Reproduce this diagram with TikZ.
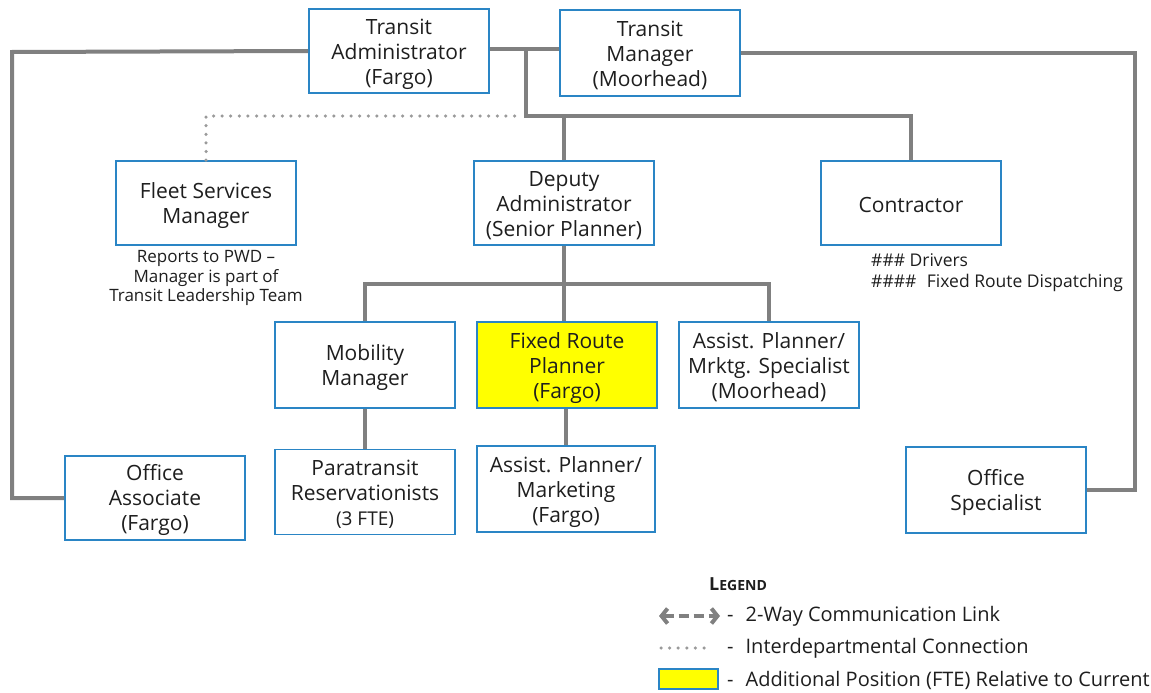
\documentclass[tikz,border=0pt]{standalone}
\usepackage{fontspec}
\setmainfont{Open Sans}
\usetikzlibrary{arrows.meta,calc,positioning}
\definecolor{orgBlue}{HTML}{2A85C5}
\definecolor{orgGray}{HTML}{808080}
\definecolor{orgDots}{HTML}{9A9A9A}
\definecolor{orgInk}{HTML}{1E1E1E}
\definecolor{orgYellow}{HTML}{FFFF00}
\begin{document}
\begin{tikzpicture}[x=1pt,y=-1pt,>=Latex,line cap=butt,line join=miter]
\path[fill=white] (0,0) rectangle (1151,693);
\tikzset{posbox/.style={draw=orgBlue,fill=white,line width=1.8pt,minimum width=180pt,minimum height=85pt,align=center,text=orgInk,inner sep=0pt,text depth=5pt,font=\fontsize{21}{25}\selectfont},oneline/.style={text height=24pt},twoline/.style={text height=45pt},threeline/.style={text height=72pt},newpos/.style={posbox,fill=orgYellow},orgline/.style={draw=orgGray,line width=4pt},interline/.style={draw=orgDots,line width=3.5pt,line cap=round,dash pattern=on 0pt off 8.6pt},commlink/.style={draw=orgGray,line width=4pt,dash pattern=on 10pt off 5pt,{Straight Barb[length=6pt,width=15pt,line width=4pt]}-{Straight Barb[length=6pt,width=15pt,line width=4pt]}},note/.style={text=orgInk,inner sep=0pt},legtext/.style={note,anchor=west,font=\fontsize{20}{24}\selectfont}}
% positions
\node[posbox,threeline,minimum height=84pt] (admin) at (399,51) {Transit\\Administrator\\(Fargo)};
\node[posbox,threeline,minimum height=86pt] (manager) at (650,53) {Transit\\Manager\\(Moorhead)};
\node[posbox,twoline,minimum height=84pt] (fleet) at (206,203) {Fleet Services\\Manager};
\node[posbox,threeline,minimum height=84pt] (deputy) at (564,203) {Deputy\\Administrator\\(Senior Planner)};
\node[posbox,oneline,minimum height=84pt] (contractor) at (911,203) {Contractor};
\node[posbox,twoline,minimum height=86pt] (mobility) at (365,365) {Mobility\\Manager};
\node[newpos,threeline,minimum height=86pt] (fixedroute) at (567,365) {Fixed Route\\Planner\\(Fargo)};
\node[posbox,threeline,minimum height=86pt] (assistmk) at (769,365) {Assist. Planner/\\Mrktg. Specialist\\(Moorhead)};
\node[posbox,threeline,text height=70pt,minimum height=84pt] (offassoc) at (155,498) {Office\\Associate\\(Fargo)};
\node[posbox,threeline,minimum height=85pt] (paratransit) at (365,492) {Paratransit\\Reservationists\\{\fontsize{19}{25}\selectfont(3 FTE)}};
\node[posbox,threeline,minimum width=178pt,minimum height=86pt] (assistpl) at (566,489) {Assist. Planner/\\Marketing\\(Fargo)};
\node[posbox,twoline,minimum height=86pt] (offspec) at (996,490) {Office\\Specialist};
% notes
\node[note,align=center,font=\fontsize{17}{19.5}\selectfont] (fleetnote) at (206,278) {Reports to PWD --\\Manager is part of\\Transit Leadership Team};
\node[note,align=left,anchor=west,font=\fontsize{17.5}{21}\selectfont] (contractnote) at (871,273) {\#\#\# Drivers\\\#\#\#\#\hspace{0.6em}Fixed Route Dispatching};
% connectors
\coordinate (lcorner) at (12,52); \coordinate (rcorner) at (1135,53);
\coordinate (tbus) at (526,116); \coordinate (dbus) at (564,284);
\draw[orgline] (admin.west) -- (lcorner) |- (offassoc.west);
\draw[orgline] (manager.east) -- (rcorner) |- (offspec.east);
\draw[orgline] ([yshift=2pt]admin.east) -- ([yshift=2pt]admin.east -| manager.west);
\draw[orgline] ([yshift=2pt]admin.east -| tbus) -- (tbus) -| (contractor.north);
\draw[orgline] (deputy.north) -- (deputy.north |- tbus);
\draw[interline] (fleet.north) |- ([xshift=-6pt]tbus);
\draw[orgline] (deputy.south) -- (deputy.south |- fixedroute.north);
\draw[orgline] (mobility.north) |- (dbus) -| (assistmk.north);
\draw[orgline] (mobility.south) -- (paratransit.north);
\draw[orgline] (fixedroute.south -| assistpl.north) -- (assistpl.north);
% legend
\node[note,font=\bfseries] (legtitle) at (738,584) {{\fontsize{18}{20}\selectfont L}{\fontsize{14}{20}\selectfont EGEND}};
\coordinate (commA) at (659,616); \coordinate (commB) at (720,616);
\coordinate (dotA) at (661,648); \coordinate (dotB) at (712,648);
\draw[commlink] (commA) -- (commB);
\draw[interline] (dotA) -- (dotB);
\node[draw=orgBlue,fill=orgYellow,line width=1.5pt,minimum width=59pt,minimum height=20pt,inner sep=0pt] (legyellow) at (688.5,679) {};
\node[legtext] (legcomm) at (727,616) {-\hspace{0.6em}2-Way Communication Link};
\node[legtext] (leginter) at (727,648) {-\hspace{0.6em}Interdepartmental Connection};
\node[legtext] (legadd) at (727,680) {-\hspace{0.6em}Additional Position (FTE) Relative to Current};
\end{tikzpicture}
\end{document}
